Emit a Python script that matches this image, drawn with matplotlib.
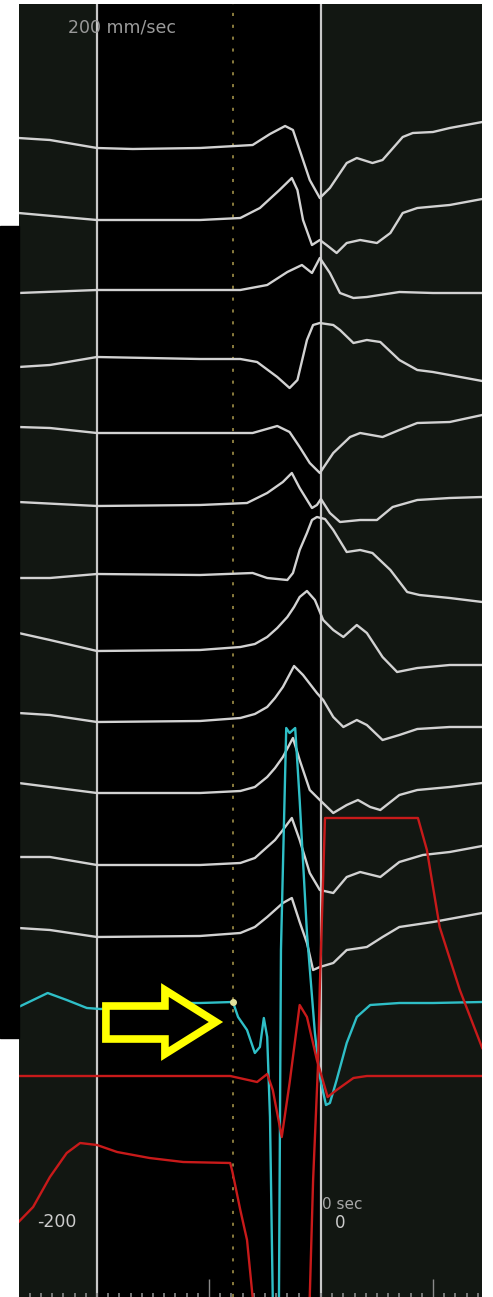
import matplotlib
matplotlib.use('Agg')
import numpy as np
import matplotlib.pyplot as plt
from matplotlib.patches import Polygon, Rectangle

# time in ms (0 = right caliper), amplitude in display units (up = positive)
# each trace: (times, amplitudes), drawn around its own baseline
baselines_white = [148, 220, 290, 358, 433, 505, 575, 650, 721, 793, 865, 936]

white_t = [
    [-270, -242, -200, -168, -108, -61, -45.5, -32, -25, -19, -10, -1, 8, 23, 32, 46, 55, 73, 82, 100, 115, 144],
    [-270, -200, -108, -72, -54.5, -37, -26, -21, -16, -8, -1, 5, 14, 23, 35, 50, 62, 73, 86, 115, 144],
    [-270, -200, -108, -72, -48, -30, -17, -8, -1, 8, 17, 29, 41, 70, 100, 144],
    [-270, -242, -200, -108, -72, -57, -39, -28, -21, -12.5, -7, -1, 11, 17, 29, 41, 53, 70, 86, 100, 144],
    [-270, -242, -200, -108, -61, -39, -28, -19, -10, -1, 11, 26, 35, 55, 70, 86, 115, 144],
    [-270, -200, -108, -66, -48, -34, -26, -19, -8, -3.6, 0, 8, 17, 35, 50, 64, 86, 115, 144],
    [-270, -242, -200, -108, -61, -48, -30, -25, -19, -12.5, -8, -3.6, 3.6, 11, 23, 35, 46, 62, 77, 88, 115, 144],
    [-270, -242, -200, -108, -72, -59, -48, -39, -30, -24, -19, -12.5, -5.4, 2, 11, 20, 32, 41, 55, 68, 86, 115, 144],
    [-270, -242, -200, -108, -72, -59, -48, -41, -34, -24, -16, -3.6, 2, 11, 20, 32, 41, 55, 70, 86, 115, 144],
    [-270, -242, -200, -108, -72, -59, -48, -41, -34, -25, -19, -10, -1, 11, 23, 33, 44, 53, 70, 86, 115, 144],
    [-270, -242, -200, -108, -72, -59, -48, -41, -34, -26, -19, -10, -1, 11, 23, 35, 53, 70, 91, 115, 144],
    [-270, -242, -200, -108, -72, -59, -48, -41, -34, -26, -19, -12.5, -7, -1, 11, 23, 41, 55, 70, 100, 144],
]
white_v = [
    [10, 8, 0, -1, 0, 3, 14, 22, 18, -2, -32, -50, -40, -15, -10, -15, -12, 11, 15, 16, 20, 26],
    [7, 0, 0, 2, 12, 30, 42, 30, 0, -25, -20, -25, -33, -23, -20, -23, -13, 7, 12, 15, 21],
    [-3, 0, 0, 0, 5, 18, 25, 17, 32, 17, -3, -8, -7, -2, -3, -3],
    [-9, -7, 1, -1, -1, -4, -19, -30, -22, 18, 33, 35, 33, 28, 15, 18, 16, -2, -12, -14, -23],
    [6, 5, 0, 0, 0, 7, 1, -14, -30, -40, -20, -4, 0, -4, 3, 10, 11, 18],
    [3, -1, 0, 2, 12, 23, 32, 17, -3, 0, 6, -8, -17, -15, -15, -2, 5, 7, 8],
    [-3, -3, 1, 0, 2, -3, -5, 2, 25, 42, 55, 58, 56, 45, 23, 25, 22, 5, -17, -20, -23, -27],
    [17, 10, -1, 0, 3, 6, 13, 22, 33, 43, 53, 59, 50, 30, 20, 13, 25, 17, -7, -22, -18, -15, -15],
    [8, 6, -1, 0, 3, 7, 14, 23, 34, 55, 46, 28, 21, 4, -6, 1, -4, -19, -14, -8, -6, -6],
    [10, 6, 0, 0, 2, 6, 16, 25, 36, 55, 33, 3, -7, -20, -12, -7, -14, -17, -2, 3, 6, 10],
    [8, 8, 0, 0, 2, 7, 18, 25, 35, 47, 25, -8, -25, -28, -12, -7, -12, 3, 10, 13, 19],
    [8, 6, -1, 0, 3, 9, 19, 26, 33, 38, 14, -7, -34, -31, -27, -14, -11, -1, 9, 14, 23],
]

baseline_cyan = 1005
cyan_t = [-270, -257, -244, -227, -209, -197, -168, -137.5, -108, -78.6, -74, -66, -59, -54.5, -51, -48,
          -45.5, -43, -40, -37.5, -35.7, -31, -28, -23, -19, -12.5, -5.4, -1, 4.5, 8, 14, 23, 32, 44, 70, 100, 144]
cyan_v = [-2, 5, 12, 5, -3, -4, -2, 2, 2, 3, -12, -25, -48, -42, -13, -32,
          -112, -295, -325, -295, 55, 277, 272, 277, 205, 72, -28, -72, -100, -98, -75, -38, -12, 0, 2, 2, 3]

baseline_red1 = 1076
red1_t = [-270, -81, -57, -48, -43, -35, -28, -19, -12.5, -3.6, 6, 14, 29, 41, 144]
red1_v = [0, 0, -6, 2, -14, -61, -7, 71, 59, 16, -21, -14, -2, 0, 0]

baseline_red2 = 1160
red2_t = [-270, -257, -242, -227, -215, -200, -182, -153, -123, -81, -79, -72, -66, -61, -54.5, -34,
          -14, -10, -7, -2.7, -1, 3.6, 6, 86.6, 94.6, 106, 124, 144]
red2_v = [-62, -47, -17, 7, 17, 15, 8, 2, -2, -3, -12, -50, -80, -137, -200, -240,
          -200, -137, -20, 93, 173, 342, 342, 342, 310, 233, 170, 112]

caliper_t = [-200, 0]
marker_t = -78.6
marker_y = 1002
arrow_t = [-192, -139.3, -139.3, -93.75, -139.3, -139.3, -192]
arrow_y = [1006, 1006, 990, 1022, 1054, 1039, 1039]

W, H = 493, 1297
fig = plt.figure(figsize=(W / 100, H / 100), dpi=100)
fig.patch.set_facecolor('white')
fig.patches.append(Rectangle((0, 1 - 1038 / H), 19 / W, (1038 - 226) / H,
                             transform=fig.transFigure, color='black', zorder=0))

ax = fig.add_axes([19 / W, 0, 463 / W, 1293 / H])
ax.set_facecolor('#121712')
ax.set_xlim(-269.6, 143.8)
ax.set_ylim(1297, 4)
ax.axvspan(caliper_t[0], caliper_t[1], color='black', zorder=0)

for c in caliper_t:
    ax.axvline(c, color='#c8c8c8', lw=1.6, zorder=1)
ax.axvline(marker_t, color='#8a7c3e', lw=1.4, linestyle=(0, (1.6, 4.5)), zorder=1)

for b, t, v in zip(baselines_white, white_t, white_v):
    ax.plot(t, b - np.array(v), color='#d2d2d2', lw=1.7, zorder=3, solid_joinstyle='round')

ax.plot(cyan_t, baseline_cyan - np.array(cyan_v), color='#2fbfc7', lw=1.7, zorder=4)
ax.plot(red1_t, baseline_red1 - np.array(red1_v), color='#c81a1a', lw=1.7, zorder=4)
ax.plot(red2_t, baseline_red2 - np.array(red2_v), color='#c81a1a', lw=1.7, zorder=4)

ax.plot([marker_t], [marker_y], 'o', ms=4, color='#e2e09a', zorder=5)

ax.add_patch(Polygon(np.column_stack([arrow_t, arrow_y]), closed=True, facecolor='black',
                     edgecolor='#ffff00', lw=5.5, joinstyle='miter', zorder=6))

ax.text(-226, 28, '200 mm/sec', color='#9a9a9a', fontsize=12.5, va='center', ha='left')
ax.text(-253.6, 1222, '-200', color='#cccccc', fontsize=12.5, va='center', ha='left')
ax.text(0.5, 1212, '0 sec', color='#a8a8a8', fontsize=11, va='bottom', ha='left')
ax.text(12.5, 1214, '0', color='#cccccc', fontsize=12, va='top', ha='left')

# time ticks along the bottom edge
ax.set_xticks([-100, 100])
ax.set_xticks(np.arange(-260, 141, 10), minor=True)
ax.set_yticks([])
ax.tick_params(axis='x', which='major', direction='in', length=13, width=1, color='#8a8a8a',
               labelbottom=False, pad=0)
ax.tick_params(axis='x', which='minor', direction='in', length=3, width=1.2, color='#8a8a8a')
for s in ax.spines.values():
    s.set_visible(False)

fig.savefig('out.png', dpi=100, facecolor='white')
